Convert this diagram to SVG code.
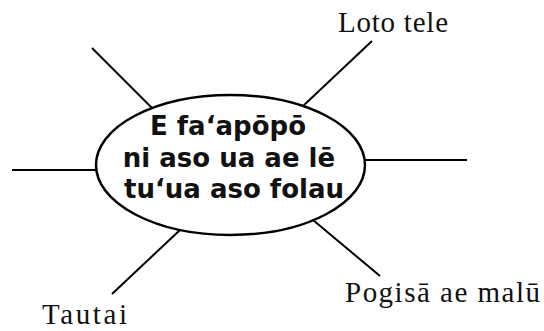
<svg xmlns="http://www.w3.org/2000/svg" width="544" height="331" viewBox="0 0 544 331">
<style>
.ln{stroke:#000;stroke-width:2;fill:none;stroke-linecap:butt}
.lbl{font-family:"Liberation Serif","Times New Roman",serif;font-size:29px;fill:#111}
.ctr{font-family:"DejaVu Sans",sans-serif;font-weight:bold;font-size:26px;fill:#111;text-anchor:middle}
</style>
<rect width="544" height="331" fill="#fff"/>
<g id="connectors">
<line class="ln" x1="92" y1="48" x2="152" y2="108"/>
<line class="ln" x1="12" y1="170" x2="96" y2="170"/>
<line class="ln" x1="372" y1="41" x2="303" y2="106"/>
<line class="ln" x1="365" y1="160" x2="467" y2="160"/>
<line class="ln" x1="313" y1="220" x2="380" y2="276"/>
<line class="ln" x1="180" y1="230" x2="112" y2="294"/>
</g>
<g id="center">
<ellipse cx="230.5" cy="165" rx="134.5" ry="70" fill="#fff" stroke="#000" stroke-width="2.5"/>
<text class="ctr" x="228" y="135">E fa‘apōpō</text>
<text class="ctr" x="229" y="167">ni aso ua ae lē</text>
<text class="ctr" x="234" y="198">tu‘ua aso folau</text>
</g>
<g id="loto-tele"><text class="lbl" x="338" y="32" textLength="110" lengthAdjust="spacing">Loto tele</text></g>
<g id="pogisa"><text class="lbl" x="345" y="302" textLength="195" lengthAdjust="spacing">Pogisā ae malū</text></g>
<g id="tautai"><text class="lbl" x="42" y="324" textLength="85" lengthAdjust="spacing">Tautai</text></g>
</svg>
